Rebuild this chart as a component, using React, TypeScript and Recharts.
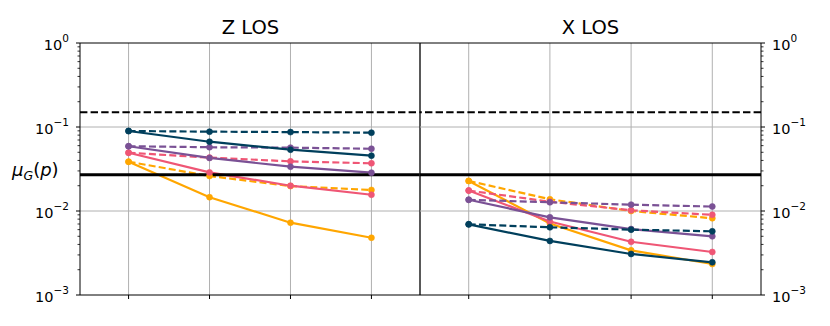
import React from "react";
import { LineChart, Line, XAxis, YAxis, ReferenceLine } from "recharts";

// x positions (four steps per panel, no tick labels)
const steps = [0, 1, 2, 3];

// Z LOS
const zNavySolid = [0.0896, 0.0668, 0.0537, 0.0456];
const zNavyDashed = [0.0896, 0.088, 0.087, 0.0856];
const zPurpleSolid = [0.059, 0.0428, 0.0337, 0.0286];
const zPurpleDashed = [0.059, 0.0574, 0.0568, 0.0551];
const zPinkSolid = [0.0494, 0.0288, 0.02, 0.0156];
const zPinkDashed = [0.0494, 0.0432, 0.039, 0.037];
const zOrangeSolid = [0.0386, 0.0146, 0.00726, 0.0048];
const zOrangeDashed = [0.0386, 0.0261, 0.0198, 0.0178];

// X LOS
const xNavySolid = [0.00694, 0.0044, 0.00308, 0.00245];
const xNavyDashed = [0.00694, 0.0064, 0.006, 0.00573];
const xPurpleSolid = [0.0136, 0.0084, 0.0061, 0.005];
const xPurpleDashed = [0.0136, 0.0127, 0.0119, 0.0113];
const xPinkSolid = [0.0175, 0.0075, 0.0043, 0.00325];
const xPinkDashed = [0.0175, 0.0129, 0.0102, 0.009];
const xOrangeSolid = [0.0228, 0.0071, 0.0034, 0.00234];
const xOrangeDashed = [0.0228, 0.0138, 0.01, 0.0082];

// horizontal thresholds
const upperBound = 0.15;
const lowerBound = 0.027;

// log axis ticks
const majorTicks = [0.001, 0.01, 0.1, 1];
const majorExp = ["−3", "−2", "−1", "0"];
const minorMult = [2, 3, 4, 5, 6, 7, 8, 9];
const allTicks = [
    ...majorTicks,
    ...majorTicks.slice(0, 3).flatMap((d) => minorMult.map((m) => +(d * m).toPrecision(3))),
];

const NAVY = "#003f5c";
const PURPLE = "#7a5195";
const PINK = "#ef5675";
const ORANGE = "#ffa600";
const GRID = "#b0b0b0";
const FONT = "'DejaVu Sans', sans-serif";

const series = [
    { key: "orangeSolid", color: ORANGE, dashed: false },
    { key: "orangeDashed", color: ORANGE, dashed: true },
    { key: "pinkSolid", color: PINK, dashed: false },
    { key: "pinkDashed", color: PINK, dashed: true },
    { key: "purpleSolid", color: PURPLE, dashed: false },
    { key: "purpleDashed", color: PURPLE, dashed: true },
    { key: "navySolid", color: NAVY, dashed: false },
    { key: "navyDashed", color: NAVY, dashed: true },
];

const zRows = steps.map((s, k) => ({
    step: s,
    navySolid: zNavySolid[k],
    navyDashed: zNavyDashed[k],
    purpleSolid: zPurpleSolid[k],
    purpleDashed: zPurpleDashed[k],
    pinkSolid: zPinkSolid[k],
    pinkDashed: zPinkDashed[k],
    orangeSolid: zOrangeSolid[k],
    orangeDashed: zOrangeDashed[k],
}));

const xRows = steps.map((s, k) => ({
    step: s,
    navySolid: xNavySolid[k],
    navyDashed: xNavyDashed[k],
    purpleSolid: xPurpleSolid[k],
    purpleDashed: xPurpleDashed[k],
    pinkSolid: xPinkSolid[k],
    pinkDashed: xPinkDashed[k],
    orangeSolid: xOrangeSolid[k],
    orangeDashed: xOrangeDashed[k],
}));

function LogTick(props: any) {
    const { y, payload, axisX, side } = props;
    const v = payload.value;
    const idx = majorTicks.indexOf(v);
    const major = idx >= 0;
    const len = major ? 4 : 2.5;
    const dir = side === "left" ? -1 : 1;
    return (
        <g>
            <line x1={axisX} x2={axisX + dir * len} y1={y} y2={y} stroke="#000" strokeWidth={major ? 1 : 0.8} />
            {major && (
                <text
                    x={side === "left" ? axisX - 11 : axisX + 11}
                    y={y + 7.3}
                    textAnchor={side === "left" ? "end" : "start"}
                    fontFamily={FONT}
                    fontSize={14.5}
                    fill="#000"
                >
                    10
                    <tspan fontSize={10.5} dy={-8}>
                        {majorExp[idx]}
                    </tspan>
                </text>
            )}
        </g>
    );
}

function Panel({ rows, side }: { rows: any[]; side: "left" | "right" }) {
    const isLeft = side === "left";
    const width = isLeft ? 425 : 415;
    const axisX = isLeft ? 80 : 346;
    return (
        <LineChart
            width={width}
            height={326}
            data={rows}
            margin={{ top: 43, bottom: 0, left: isLeft ? 0 : 5, right: isLeft ? 5 : 0 }}
        >
            <XAxis
                dataKey="step"
                type="number"
                domain={[-0.6, 3.6]}
                ticks={steps}
                allowDataOverflow
                height={31}
                axisLine={{ stroke: "#000", strokeWidth: 1 }}
                tickLine={{ stroke: "#000", strokeWidth: 1 }}
                tickSize={4}
                tick={() => <g />}
            />
            <YAxis
                orientation={side}
                type="number"
                scale="log"
                domain={[0.001, 1]}
                allowDataOverflow
                ticks={allTicks}
                interval={0}
                width={isLeft ? 80 : 69}
                axisLine={{ stroke: "#000", strokeWidth: 1 }}
                tickLine={false}
                tick={(p: any) => <LogTick {...p} axisX={axisX} side={side} />}
            />
            {/* grid */}
            <ReferenceLine y={0.1} stroke={GRID} strokeWidth={1} />
            <ReferenceLine y={0.01} stroke={GRID} strokeWidth={1} />
            {steps.map((s) => (
                <ReferenceLine key={s} x={s} stroke={GRID} strokeWidth={1} />
            ))}
            {series.map((s) => (
                <Line
                    key={s.key}
                    dataKey={s.key}
                    stroke={s.color}
                    strokeWidth={2.2}
                    strokeDasharray={s.dashed ? "7 3.2" : undefined}
                    dot={{ r: 3, fill: s.color, stroke: s.color, strokeWidth: 0.6, strokeDasharray: "" }}
                    isAnimationActive={false}
                />
            ))}
            <ReferenceLine y={upperBound} stroke="#000" strokeWidth={2} strokeDasharray="7.4 3.2" />
            <ReferenceLine y={lowerBound} stroke="#000" strokeWidth={3} />
            {/* frame */}
            <ReferenceLine y={1} stroke="#000" strokeWidth={1} />
            {isLeft && <ReferenceLine x={3.6} stroke="#222" strokeWidth={1.5} />}
        </LineChart>
    );
}

export default function App() {
    return (
        <div style={{ position: "absolute", left: 0, top: 0, width: 830, height: 326, background: "#fff" }}>
            <div style={{ position: "absolute", left: 0, top: 0 }}>
                <Panel rows={zRows} side="left" />
            </div>
            <div style={{ position: "absolute", left: 415, top: 0 }}>
                <Panel rows={xRows} side="right" />
            </div>
            <svg width={830} height={326} style={{ position: "absolute", left: 0, top: 0, pointerEvents: "none" }}>
                <text x={250.5} y={34.3} textAnchor="middle" fontFamily={FONT} fontSize={19.5} fill="#000">
                    Z LOS
                </text>
                <text x={590.5} y={34.3} textAnchor="middle" fontFamily={FONT} fontSize={19.5} fill="#000">
                    X LOS
                </text>
                <text x={12} y={176} fontFamily={FONT} fontSize={18} fill="#000">
                    <tspan fontStyle="italic">μ</tspan>
                    <tspan fontStyle="italic" fontSize={12.5} dy={3.5}>
                        G
                    </tspan>
                    <tspan dy={-3.5}>(</tspan>
                    <tspan fontStyle="italic">p</tspan>
                    <tspan>)</tspan>
                </text>
            </svg>
        </div>
    );
}
